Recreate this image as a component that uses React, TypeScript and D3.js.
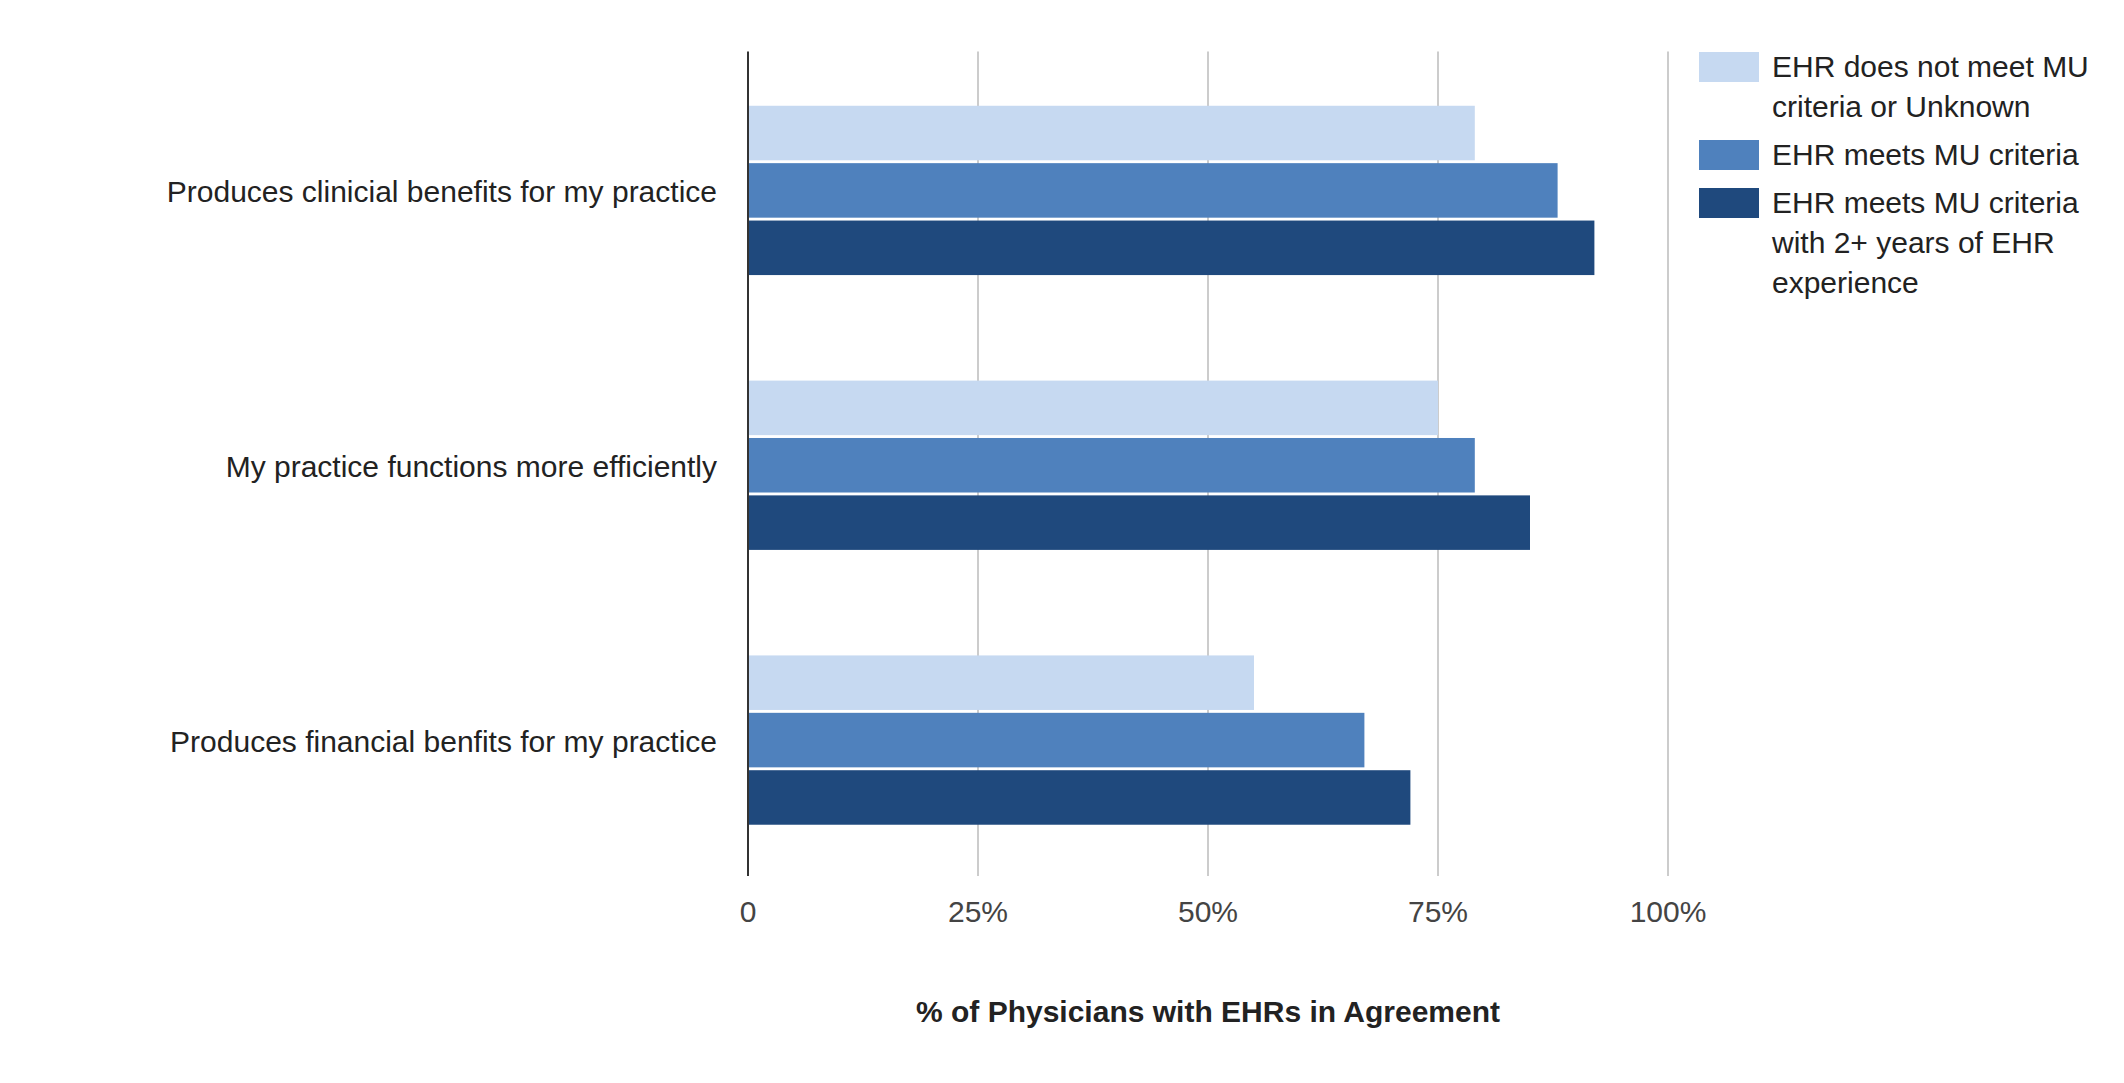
import React from "react";
import { scaleBand, scaleLinear } from "d3";

const categories = [
  "Produces clinicial benefits for my practice",
  "My practice functions more efficiently",
  "Produces financial benfits for my practice",
];

const seriesNames = [
  "EHR does not meet MU criteria or Unknown",
  "EHR meets MU criteria",
  "EHR meets MU criteria with 2+ years of EHR experience",
];

// legend text as it wraps in the reference
const legendLines = [
  ["EHR does not meet MU", "criteria or Unknown"],
  ["EHR meets MU criteria"],
  ["EHR meets MU criteria", "with 2+ years of EHR", "experience"],
];

const notMeetMU = [79, 75, 55];
const meetsMU = [88, 79, 67];
const meetsMU2Years = [92, 85, 72];

const seriesValues = [notMeetMU, meetsMU, meetsMU2Years];
const colors = ["#c6d9f1", "#4f81bd", "#1f497d"];

const xTicks = [0, 25, 50, 75, 100];
const tickLabels = ["0", "25%", "50%", "75%", "100%"];
const xTitle = "% of Physicians with EHRs in Agreement";

const W = 2124;
const H = 1083;
const font = "'Liberation Sans', Arial, sans-serif";

export default function App() {
  const left = 748;
  const right = 1668;
  const top = 51.5;
  const bottom = 876;

  const x = scaleLinear().domain([0, 100]).range([left, right]);
  const y = scaleBand<string>()
    .domain(categories)
    .range([top + 1.5, bottom + 1.5])
    .paddingInner(0.384)
    .paddingOuter(0.192);
  const ySub = scaleBand<number>()
    .domain([0, 1, 2])
    .range([0, y.bandwidth()])
    .paddingInner(0.05);

  // legend layout
  const lineH = 40;
  const itemGap = 8;
  let cursor = 52;
  const legendItems = legendLines.map((lines, i) => {
    const topY = cursor;
    cursor += lines.length * lineH + itemGap;
    return { lines, topY, i };
  });

  return (
    <svg
      width={W}
      height={H}
      style={{ position: "absolute", left: 0, top: 0, display: "block" }}
      fontFamily={font}
    >
      <rect width={W} height={H} fill="#fff" />

      {/* gridlines */}
      {xTicks.slice(1).map((t) => (
        <line
          key={t}
          x1={x(t)}
          x2={x(t)}
          y1={top}
          y2={bottom}
          stroke="#cccccc"
          strokeWidth={2}
        />
      ))}

      {/* bars */}
      {categories.map((c, ci) => (
        <g key={c} transform={`translate(0, ${y(c)})`}>
          {seriesValues.map((vals, si) => (
            <rect
              key={si}
              x={x(0)}
              y={ySub(si)}
              width={x(vals[ci]) - x(0)}
              height={ySub.bandwidth()}
              fill={colors[si]}
            >
              <title>{`${seriesNames[si]}: ${vals[ci]}%`}</title>
            </rect>
          ))}
        </g>
      ))}

      {/* baseline axis */}
      <line x1={x(0)} x2={x(0)} y1={top} y2={bottom} stroke="#333" strokeWidth={2} />

      {/* category labels */}
      {categories.map((c) => (
        <text
          key={c}
          x={left - 31}
          y={(y(c) ?? 0) + y.bandwidth() / 2 + 1.5}
          dy="0.35em"
          textAnchor="end"
          fontSize={30}
          fill="#222"
        >
          {c}
        </text>
      ))}

      {/* tick labels */}
      {xTicks.map((t, i) => (
        <text
          key={t}
          x={x(t)}
          y={922}
          textAnchor="middle"
          fontSize={30}
          fill="#444"
        >
          {tickLabels[i]}
        </text>
      ))}

      {/* axis title */}
      <text
        x={(left + right) / 2}
        y={1022}
        textAnchor="middle"
        fontSize={30}
        fontWeight="bold"
        fill="#222"
      >
        {xTitle}
      </text>

      {/* legend */}
      {legendItems.map(({ lines, topY, i }) => (
        <g key={i}>
          <rect x={1699} y={topY} width={60} height={30} fill={colors[i]} />
          <text x={1772} y={topY + 25} fontSize={30} fill="#222">
            {lines.map((l, li) => (
              <tspan key={li} x={1772} dy={li === 0 ? 0 : lineH}>
                {l}
              </tspan>
            ))}
          </text>
        </g>
      ))}
    </svg>
  );
}
